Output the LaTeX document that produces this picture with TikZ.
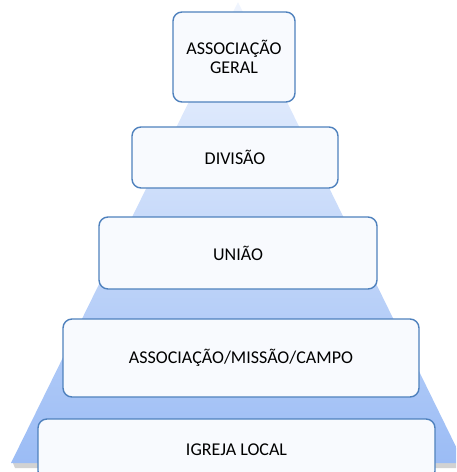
\documentclass[tikz,border=0pt]{standalone}
\usepackage{fontspec}
\setmainfont{Carlito}
\definecolor{borda}{RGB}{79,129,189}
\definecolor{caixa}{RGB}{248,250,254}
\definecolor{topo}{RGB}{240,245,254}
\definecolor{fundo}{RGB}{155,188,245}
\begin{document}
\begin{tikzpicture}[x=1pt, y=-1pt,
    nivel/.style={draw=borda, line width=1.4pt, fill=caixa, rounded corners=9pt,
        inner sep=0pt, align=center, font=\fontsize{18}{19.5}\selectfont}]
    % área da figura
    \useasboundingbox (0,0) rectangle (456,472);
    \clip (0,0) rectangle (456,472);
    % sombra da base
    \fill[gray!35] (13,463) -- (464,463) -- (462,468) -- (15,468) -- cycle;
    % pirâmide
    \shade[top color=topo, bottom color=fundo] (238,2) -- (464,463) -- (11,463) -- cycle;
    % níveis
    \node[nivel, minimum width=122pt, minimum height=90pt] (geral) at (234,57) {ASSOCIAÇÃO\\GERAL};
    \node[nivel, minimum width=206pt, minimum height=61pt] (divisao) at (235,157.5) {DIVISÃO};
    \node[nivel, minimum width=278pt, minimum height=72pt] (uniao) at (238,253) {UNIÃO};
    \node[nivel, minimum width=356pt, minimum height=78pt] (campo) at (241,358) {ASSOCIAÇÃO/MISSÃO/CAMPO};
    \node[nivel, minimum width=397pt, minimum height=61pt] (igreja) at (236.5,449.5) {IGREJA LOCAL};
\end{tikzpicture}
\end{document}
